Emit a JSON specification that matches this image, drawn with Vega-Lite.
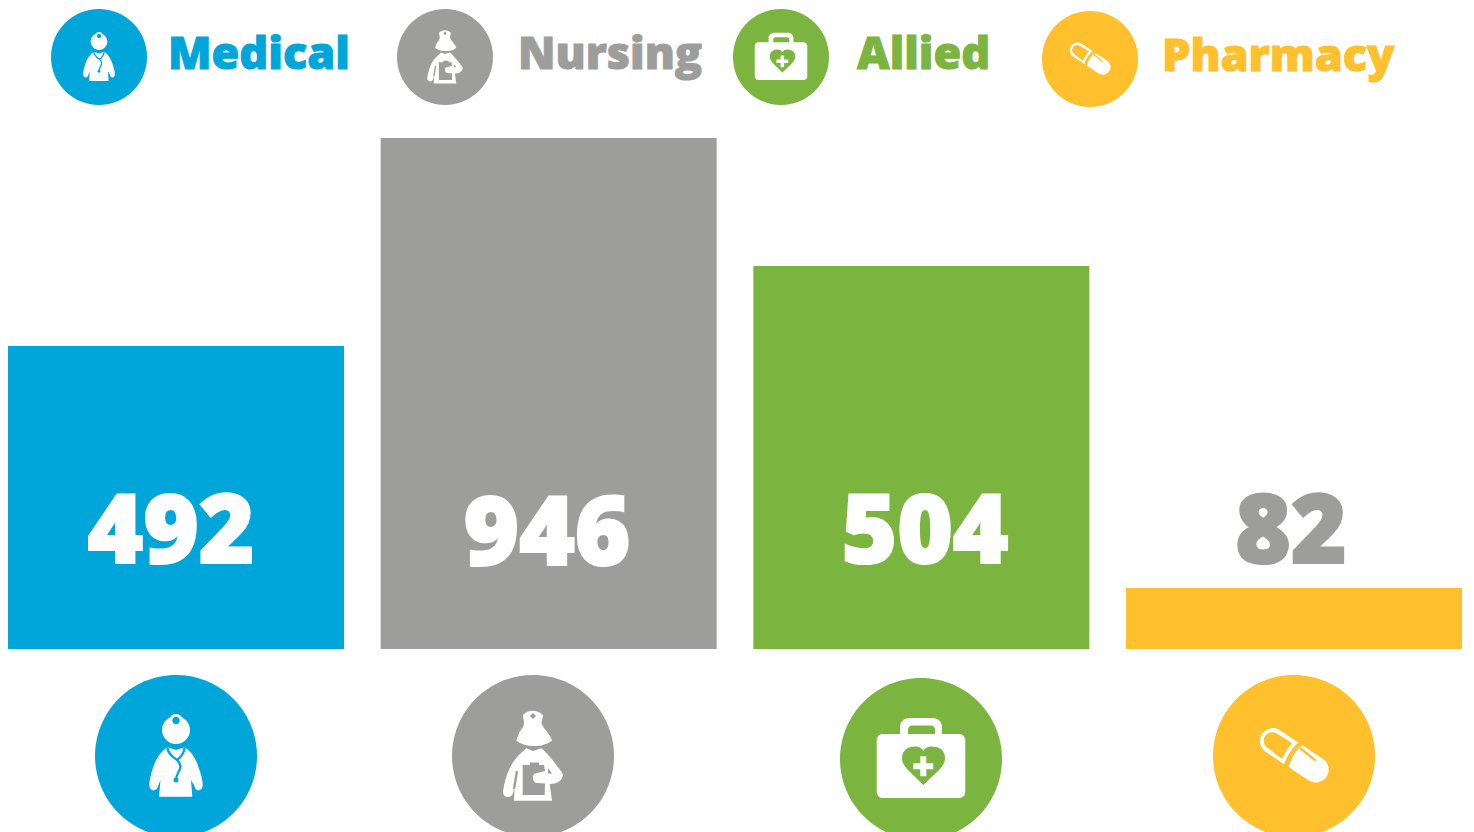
{"$schema":"https://vega.github.io/schema/vega-lite/v6.json","autosize":"none","padding":0,"width":1474,"height":832,"background":"#ffffff","config":{"view":{"stroke":null}},
"datasets":{"cats":[{"category":"Medical","count":492,"order":1},{"category":"Nursing","count":946,"order":2},{"category":"Allied","count":504,"order":3},{"category":"Pharmacy","count":82,"order":4}],
"icons":[{"category":"Medical","placement":"legend","slot":1},{"category":"Nursing","placement":"legend","slot":2},{"category":"Allied","placement":"legend","slot":3},{"category":"Pharmacy","placement":"legend","slot":4},{"category":"Medical","placement":"below","slot":5},{"category":"Nursing","placement":"below","slot":6},{"category":"Allied","placement":"below","slot":7},{"category":"Pharmacy","placement":"below","slot":8}]},
"layer":[
{"data":{"name":"cats"},"mark":{"type":"bar"},"encoding":{
"x":{"field":"category","type":"nominal","sort":["Medical","Nursing","Allied","Pharmacy"],"axis":null,"scale":{"type":"band","domain":["Medical","Nursing","Allied","Pharmacy"],"range":[8,1462],"paddingInner":0.0984,"paddingOuter":0}},
"y":{"field":"count","type":"quantitative","stack":null,"axis":null,"scale":{"domain":[0,82,492,504,946],"range":[649,588,346,266,138],"nice":false,"zero":false}},
"color":{"field":"category","type":"nominal","legend":null,"scale":{"domain":["Medical","Nursing","Allied","Pharmacy"],"range":["#00A6D9","#9D9D9B","#7CB440","#FFC02D"]}}}},
{"data":{"name":"cats"},"mark":{"type":"text","font":"Open Sans","fontWeight":800,"fontSize":95,"align":"center","baseline":"alphabetic","strokeWidth":2.2,"strokeJoin":"miter"},"encoding":{
"x":{"field":"order","type":"quantitative","axis":null,"scale":{"domain":[1,2,3,4],"range":[171,547,925,1291],"nice":false,"zero":false}},
"y":{"field":"order","type":"quantitative","axis":null,"scale":{"domain":[1,2,3,4],"range":[563,565,563,563],"nice":false,"zero":false}},
"text":{"field":"count","type":"quantitative"},
"color":{"condition":{"test":"datum.count<100","value":"#9D9D9B"},"value":"#ffffff"},
"stroke":{"condition":{"test":"datum.count<100","value":"#9D9D9B"},"value":"#ffffff"}}},
{"data":{"name":"cats"},"mark":{"type":"text","font":"Open Sans","fontWeight":800,"fontSize":45,"align":"left","baseline":"alphabetic","strokeWidth":1},"encoding":{
"x":{"field":"order","type":"quantitative","axis":null,"scale":{"domain":[1,2,3,4],"range":[168,518,857,1162],"nice":false,"zero":false}},
"y":{"field":"order","type":"quantitative","axis":null,"scale":{"domain":[1,2,3,4],"range":[69,69,69,71],"nice":false,"zero":false}},
"text":{"field":"category","type":"nominal"},
"color":{"field":"category","type":"nominal","legend":null},
"stroke":{"field":"category","type":"nominal","legend":null,"scale":{"domain":["Medical","Nursing","Allied","Pharmacy"],"range":["#00A6D9","#9D9D9B","#7CB440","#FFC02D"]}}}},
{"data":{"name":"icons"},"encoding":{
"x":{"field":"slot","type":"quantitative","axis":null,"scale":{"domain":[1,2,3,4,5,6,7,8],"range":[99,445,781,1090,176,533,921,1294],"nice":false,"zero":false}},
"y":{"field":"slot","type":"quantitative","axis":null,"scale":{"domain":[1,2,3,4,5,6,7,8],"range":[57,57,57,59,756,756,759,756],"nice":false,"zero":false}},
"size":{"field":"placement","type":"nominal","legend":null,"scale":{"domain":["legend","below"],"range":[1.405,4]}}},
"layer":[
{"mark":{"type":"point","filled":true,"opacity":1,"strokeWidth":0,"shape":"M-81,0 A81,81 0 1 1 81,0 A81,81 0 1 1 -81,0 Z"},"encoding":{"color":{"field":"category","type":"nominal","legend":null}}},
{"mark":{"type":"point","filled":true,"opacity":1,"strokeWidth":0,"color":"#ffffff"},"encoding":{"shape":{"field":"category","type":"nominal","legend":null,"scale":{"domain":["Medical","Nursing","Allied","Pharmacy"],"range":[
"M-14,-26 A14,14 0 1 1 14,-26 A14,14 0 1 1 -14,-26 Z M-7,-35 A7,7 0 1 1 7,-35 A7,7 0 1 1 -7,-35 Z M-9,-37 h18 v1.5 h-18 z M-8.7,-8.7 L0,-6 L8.7,-8.7 C15,-5 20,3 22.3,10.7 C25,18 26.7,24 26.7,29 C26.7,36 19,36 18.5,30 L15,24 L16.3,40.7 L-17,40.7 L-15.5,24 L-18,30 C-19,36 -26.7,36 -26.7,29 C-26.7,24 -25,18 -22.7,10.7 C-20,3 -15,-5 -8.7,-8.7 Z",
"M-10,-41 C-7,-44 -4,-45.3 -1,-45.3 C3,-45.3 7,-44 10,-41 C10,-38 8.5,-36 8.5,-33 C9.5,-29 13,-26 15,-22.7 C17,-20 18.5,-17.5 19,-15.3 C14,-11.5 7,-10 1,-10 C-6,-10 -12,-12 -16.7,-15.3 C-16,-18 -14.5,-21.5 -13.3,-24.3 C-11,-27 -9,-30 -9,-33 C-9,-36 -10,-38 -10,-41 Z M-6.7,-7.7 L0,-5 L8.3,-7.7 C13,-4 19,3 23.3,9 C26,12 29,16 30,19 C29,25 24,28 16.7,28 L19,44.7 L-19,44.7 L-18.5,34 L-19.3,34 C-20,39 -22,41 -25,41 C-28,41 -30,39 -30,35.7 C-29,27 -26,17 -21.7,9 C-18,2 -12,-3 -6.7,-7.7 Z",
"M-38,-25 L-21,-25 L-21,-32 A9,9 0 0 1 -12,-41 L12,-41 A9,9 0 0 1 21,-32 L21,-25 L38.3,-25 A6,6 0 0 1 44.3,-19 L44.3,33 A6,6 0 0 1 38.3,39 L-38.3,39 A6,6 0 0 1 -44.3,33 L-44.3,-19 A6,6 0 0 1 -38.3,-25 Z",
"M-14.5,-26.1 L29.5,3.2 A13,13 0 0 1 15.1,24.8 L-28.9,-4.5 A13,13 0 0 1 -14.5,-26.1 Z"]}}}},
{"mark":{"type":"point","filled":true,"opacity":1,"strokeWidth":0},"encoding":{"color":{"field":"category","type":"nominal","legend":null},"shape":{"field":"category","type":"nominal","legend":null,"scale":{"domain":["Medical","Nursing","Allied","Pharmacy"],"range":[
"M-3.7,-35.5 A3.7,3.7 0 1 1 3.7,-35.5 A3.7,3.7 0 1 1 -3.7,-35.5 Z M-2.5,24 A2.5,2.5 0 1 1 2.5,24 A2.5,2.5 0 1 1 -2.5,24 Z",
"M0,-43 L3,-40 L0,-37 L-3,-40 Z M-10.3,9 L-3,9 L-3,6.5 L6,6.5 L6,9 L11,9 L12,15 L2.3,17.5 C-1,18 -1,26 3,27 L12,27.5 L11.7,39 L-10.3,39 Z M15,12 L19,17.5 L15,17.5 Z",
"M-9,-33.5 L10,-33.5 A4,4 0 0 1 14,-29.5 L14,-25 L-13,-25 L-13,-29.5 A4,4 0 0 1 -9,-33.5 Z M2.3,-8 C5,-13 11,-13 15,-12 C21,-11 24,-6 24,-1 C24,5 20,9 16,13 L2.3,26 L-11,13 C-15,9 -19,5 -19,-1 C-19,-6 -16,-11 -10,-12 C-6,-13 0,-13 2.3,-8 Z M-0.7,-2.7 L-0.7,4.3 L-7.7,4.3 L-7.7,10.3 L-0.7,10.3 L-0.7,17.3 L5.3,17.3 L5.3,10.3 L12.3,10.3 L12.3,4.3 L5.3,4.3 L5.3,-2.7 Z",
"M-17,-22.4 L-1.7,-12.5 C-6,-8 -9.5,-3 -12,3 L-26.4,-8.2 A8.5,8.5 0 0 1 -17,-22.4 Z M6.5,-15 L10,-12 C3,-8 -2,0 -6,13 L-10.5,10 C-7,0 -2,-9 6.5,-15 Z"]}}}},
{"mark":{"type":"point","filled":false,"opacity":1},"encoding":{"color":{"field":"category","type":"nominal","legend":null},"strokeWidth":{"field":"placement","type":"nominal","legend":null,"scale":{"domain":["legend","below"],"range":[1.3,2.3]}},"shape":{"field":"category","type":"nominal","legend":null,"scale":{"domain":["Medical","Nursing","Allied","Pharmacy"],"range":[
"M-8.7,-8.7 C-8,-2 -3,1 1,4 C5,8 5,12 3,15 C1.5,18 0,20 0,24 M8.7,-8.7 C8,-2 5,1 1,4",
"M-16,15 L-19,33",
"M0,0",
"M6,-8 L21.7,4.7"]}}}}
],"resolve":{"scale":{"shape":"independent"}}}
],
"resolve":{"scale":{"x":"independent","y":"independent","shape":"independent"}}}
